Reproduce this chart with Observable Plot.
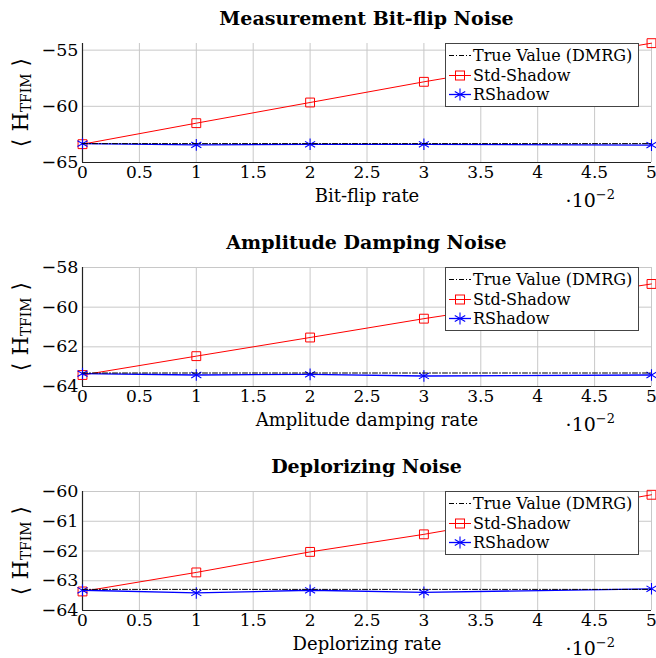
<!DOCTYPE html>
<html><head><meta charset="utf-8">
<script src="https://cdn.jsdelivr.net/npm/d3@7"></script>
<script src="https://cdn.jsdelivr.net/npm/@observablehq/plot@0.6"></script>
<style>
html,body{margin:0;padding:0;background:#fff;overflow:hidden;}
#root{width:656px;height:658px;position:relative;font-family:"DejaVu Serif",serif;color:#000;}
.block{position:relative;width:656px;height:224px;}
.title{height:36px;line-height:36px;padding-left:82px;padding-right:5px;text-align:center;font-weight:bold;font-size:19px;box-sizing:border-box;width:656px;}
.legend{position:absolute;left:445px;top:43px;width:194px;height:64px;border:1.3px solid #444;background:#fff;box-sizing:border-box;padding-top:2px;font-size:16px;}
.row{height:19.5px;display:flex;align-items:center;white-space:nowrap;}
.row svg{width:26px;height:19px;flex:none;margin-left:1px;}
</style></head><body><div id="root"></div>
<script>
// ---- data ----
const rates = [0, 1, 2, 3, 5];                 // x values (×10^-2)
const xTicks = [0, 0.5, 1, 1.5, 2, 2.5, 3, 3.5, 4, 4.5, 5];
const titles = ["Measurement Bit-flip Noise", "Amplitude Damping Noise", "Deplorizing Noise"];
const xLabels = ["Bit-flip rate", "Amplitude damping rate", "Deplorizing rate"];
const seriesNames = ["True Value (DMRG)", "Std-Shadow", "RShadow"];

const trueBitflip   = [-63.32, -63.32, -63.32, -63.32, -63.32];
const stdBitflip    = [-63.37, -61.50, -59.66, -57.82, -54.38];
const rshBitflip    = [-63.32, -63.43, -63.38, -63.38, -63.45];

const trueAmp       = [-63.32, -63.32, -63.32, -63.32, -63.32];
const stdAmp        = [-63.42, -62.47, -61.53, -60.58, -58.83];
const rshAmp        = [-63.35, -63.42, -63.39, -63.47, -63.42];

const trueDep       = [-63.29, -63.29, -63.29, -63.29, -63.29];
const stdDep        = [-63.36, -62.72, -62.03, -61.44, -60.11];
const rshDep        = [-63.32, -63.41, -63.32, -63.39, -63.27];

const yDomains = [[-65, -54.41], [-64, -58], [-64, -60]];
const yTicks = [[-65, -60, -55], [-64, -62, -60, -58], [-64, -63, -62, -61, -60]];

const panels = [
  {title: titles[0], xLabel: xLabels[0], tru: trueBitflip, std: stdBitflip, rsh: rshBitflip, yDomain: yDomains[0], yTicks: yTicks[0]},
  {title: titles[1], xLabel: xLabels[1], tru: trueAmp, std: stdAmp, rsh: rshAmp, yDomain: yDomains[1], yTicks: yTicks[1]},
  {title: titles[2], xLabel: xLabels[2], tru: trueDep, std: stdDep, rsh: rshDep, yDomain: yDomains[2], yTicks: yTicks[2]}
];

const RED = "#ff0000", BLUE = "#0000ff";
const ML = 82, MR = 5, MT = 7, MB = 62, W = 656, H = 188;

const root = document.getElementById("root");

for (const p of panels) {
  const data = rates.map((x, i) => ({x, tru: p.tru[i], std: p.std[i], rsh: p.rsh[i]}));
  const block = document.createElement("div");
  block.className = "block";
  const t = document.createElement("div");
  t.className = "title";
  t.textContent = p.title;
  block.appendChild(t);

  const svg = Plot.plot({
    width: W, height: H,
    marginLeft: ML, marginRight: MR, marginTop: MT, marginBottom: MB,
    style: {fontFamily: "DejaVu Serif", fontSize: "17px", color: "#000", background: "transparent", overflow: "visible"},
    x: {domain: [0, 5]},
    y: {domain: p.yDomain},
    marks: [
      Plot.gridX(xTicks, {stroke: "#c8c8c8", strokeOpacity: 1, strokeWidth: 1}),
      Plot.gridY(p.yTicks, {stroke: "#c8c8c8", strokeOpacity: 1, strokeWidth: 1}),
      Plot.axisX(xTicks, {tickSize: 0, tickPadding: 3, tickFormat: d => String(d), label: null, fontSize: 17}),
      Plot.axisY(p.yTicks, {tickSize: 0, tickPadding: 4, tickFormat: d => "\u2212" + Math.abs(d), label: null, fontSize: 17.5}),
      Plot.ruleX([0], {stroke: "#222", strokeWidth: 1.2}),
      Plot.ruleY([p.yDomain[0]], {stroke: "#222", strokeWidth: 1.2}),
      Plot.line(data, {x: "x", y: "std", stroke: RED, strokeWidth: 1}),
      Plot.dot(data, {x: "x", y: "std", symbol: "square", r: 5, stroke: RED, strokeWidth: 1, fill: "none"}),
      Plot.line(data, {x: "x", y: "rsh", stroke: BLUE, strokeWidth: 1.3}),
      Plot.dot(data, {x: "x", y: "rsh", symbol: "asterisk", r: 5.5, stroke: BLUE, strokeWidth: 1.1}),
      Plot.line(data, {x: "x", y: "tru", stroke: "#000", strokeWidth: 1, strokeDasharray: "5,2,1,2"}),
      Plot.text([p.xLabel], {frameAnchor: "bottom", dy: 34, text: d => d, fontSize: 18, lineAnchor: "middle"})
    ]
  });

  const ph = H - MT - MB;
  // ·10^-2 multiplier
  const mult = d3.select(svg).append("text")
    .attr("x", W - MR - 36).attr("y", MT + ph + 45)
    .attr("text-anchor", "end")
    .attr("font-family", "DejaVu Serif")
    .attr("font-size", 19);
  mult.append("tspan").text("\u00b710");
  mult.append("tspan").attr("font-size", 13).attr("dy", -8).text("\u22122");

  // y-axis label with subscript
  const lab = d3.select(svg).append("text")
    .attr("transform", `translate(22,${MT + ph / 2}) rotate(-90)`)
    .attr("text-anchor", "middle")
    .attr("dominant-baseline", "middle")
    .attr("font-family", "DejaVu Serif")
    .attr("font-size", 22);
  lab.append("tspan").text("\u27e8 H");
  lab.append("tspan").attr("font-size", 14).attr("dy", 5).text("TFIM");
  lab.append("tspan").attr("dy", -5).text(" \u27e9");

  const holder = document.createElement("div");
  holder.style.position = "relative";
  holder.appendChild(svg);
  block.appendChild(holder);

  // legend
  const leg = document.createElement("div");
  leg.className = "legend";
  const sw = [
    `<line x1="2" x2="24" y1="9.5" y2="9.5" stroke="#000" stroke-width="1" stroke-dasharray="5,2,1,2"/>`,
    `<line x1="2" x2="24" y1="9.5" y2="9.5" stroke="${RED}" stroke-width="1"/><rect x="8.5" y="5" width="9" height="9" fill="none" stroke="${RED}"/>`,
    `<line x1="2" x2="24" y1="9.5" y2="9.5" stroke="${BLUE}" stroke-width="1.3"/><g stroke="${BLUE}" stroke-width="1.1"><line x1="13" x2="13" y1="3.5" y2="15.5"/><line x1="7.8" x2="18.2" y1="6.5" y2="12.5"/><line x1="7.8" x2="18.2" y1="12.5" y2="6.5"/></g>`
  ];
  seriesNames.forEach((n, i) => {
    const r = document.createElement("div");
    r.className = "row";
    r.innerHTML = `<svg viewBox="0 0 26 19">${sw[i]}</svg><span>${n}</span>`;
    leg.appendChild(r);
  });
  block.appendChild(leg);
  root.appendChild(block);
}
</script></body></html>
